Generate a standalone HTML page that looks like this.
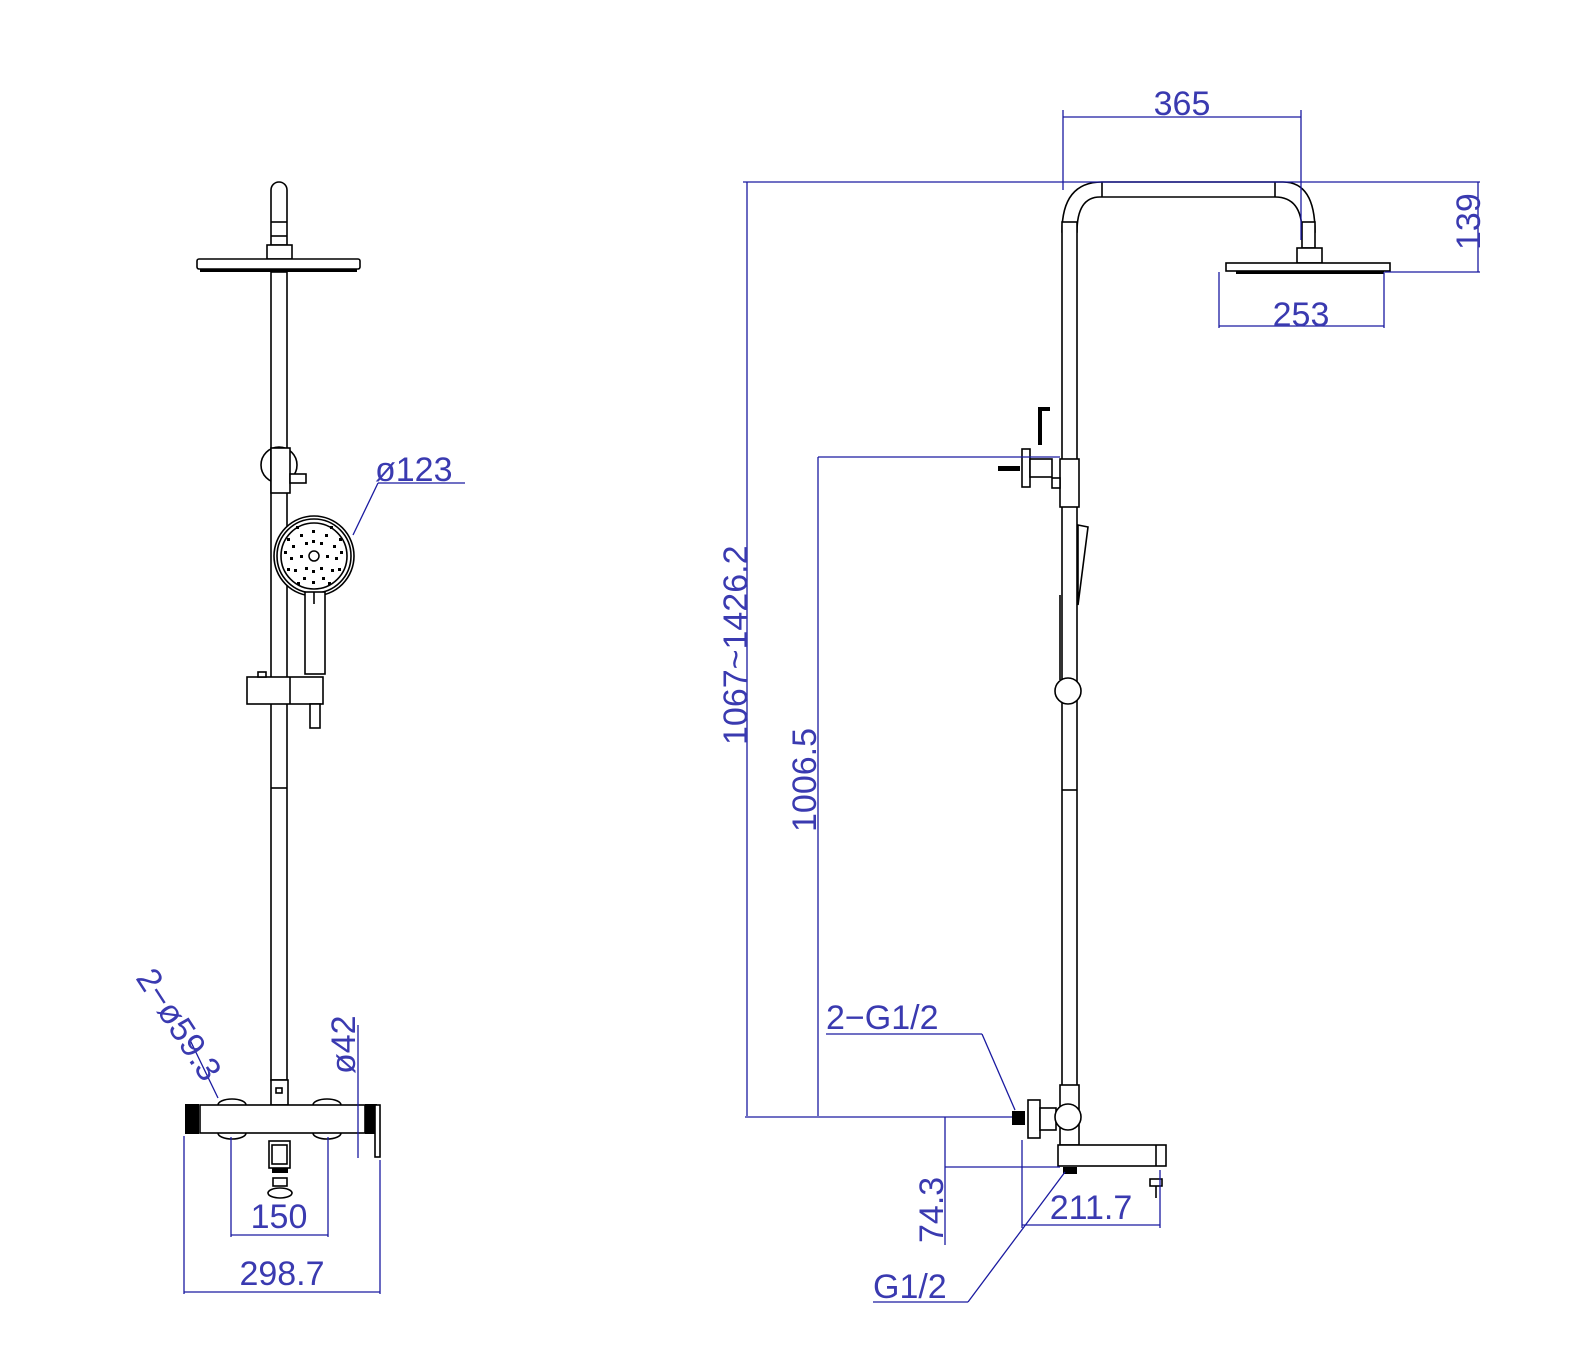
<!DOCTYPE html>
<html><head><meta charset="utf-8"><style>
html,body{margin:0;padding:0;background:#fff}
svg{display:block}
.k{fill:none;stroke:#000;stroke-width:1.6}
.kf{fill:#fff;stroke:#000;stroke-width:1.6}
.b{fill:none;stroke:#1a1aa0;stroke-width:1.3}
.t{fill:#3a3ab0;font-family:"Liberation Sans",sans-serif;font-size:34px;font-weight:normal}
</style></head><body>
<svg width="1577" height="1371" viewBox="0 0 1577 1371" xmlns="http://www.w3.org/2000/svg">
<!-- LEFT VIEW -->
<path class="kf" d="M271,245 V190 a8,8 0 0 1 16,0 V245 Z"/>
<line class="k" x1="271" y1="222" x2="287" y2="222"/>
<line class="k" x1="271" y1="236" x2="287" y2="236"/>
<rect class="kf" x="267" y="245" width="25" height="14"/>
<rect class="kf" x="197" y="259" width="163" height="10" rx="2"/>
<rect x="200" y="269" width="157" height="3" fill="#000"/>
<rect class="kf" x="271" y="272" width="16" height="808"/>
<line class="k" x1="271" y1="788" x2="287" y2="788"/>
<circle class="k" cx="279" cy="465" r="18"/>
<rect class="kf" x="271" y="448" width="19" height="45"/>
<rect class="kf" x="290" y="474" width="16" height="9"/>
<circle class="kf" cx="314" cy="556" r="40"/>
<circle class="k" cx="314" cy="556" r="37"/>
<circle class="k" cx="314" cy="556" r="33"/>
<g fill="#000">
<circle cx="314" cy="556" r="5" fill="none" stroke="#000" stroke-width="1.5"/>
<rect x="312" y="530" width="3" height="3"/><rect x="300" y="534" width="3" height="3"/><rect x="325" y="534" width="3" height="3"/>
<rect x="292" y="545" width="3" height="3"/><rect x="333" y="545" width="3" height="3"/><rect x="290" y="557" width="3" height="3"/>
<rect x="335" y="557" width="3" height="3"/><rect x="294" y="569" width="3" height="3"/><rect x="331" y="569" width="3" height="3"/>
<rect x="303" y="577" width="3" height="3"/><rect x="322" y="577" width="3" height="3"/><rect x="312" y="581" width="3" height="3"/>
<rect x="305" y="542" width="3" height="3"/><rect x="320" y="542" width="3" height="3"/><rect x="300" y="555" width="3" height="3"/>
<rect x="326" y="555" width="3" height="3"/><rect x="305" y="567" width="3" height="3"/><rect x="320" y="567" width="3" height="3"/>
<rect x="312" y="540" width="3" height="3"/><rect x="312" y="570" width="3" height="3"/><rect x="284" y="551" width="3" height="3"/><rect x="340" y="551" width="3" height="3"/>
<rect x="296" y="526" width="3" height="3"/><rect x="330" y="526" width="3" height="3"/><rect x="287" y="538" width="3" height="3"/><rect x="339" y="538" width="3" height="3"/>
<rect x="287" y="568" width="3" height="3"/><rect x="338" y="568" width="3" height="3"/><rect x="297" y="582" width="3" height="3"/><rect x="328" y="582" width="3" height="3"/>
</g>
<rect class="kf" x="305" y="592" width="20" height="82"/>
<line class="k" x1="314" y1="592" x2="314" y2="604"/>
<rect class="kf" x="247" y="677" width="76" height="27"/>
<rect class="kf" x="258" y="672" width="8" height="5"/>
<line class="k" x1="290" y1="677" x2="290" y2="704"/>
<rect class="kf" x="310" y="704" width="10" height="24"/>
<!-- mixer -->
<rect class="kf" x="271" y="1080" width="17" height="25"/>
<rect class="k" x="276" y="1088" width="6" height="5"/>
<path class="k" d="M218,1105 a14,6 0 0 1 28,0 M313,1105 a14,6 0 0 1 28,0 M218,1133 a14,6 0 0 0 28,0 M313,1133 a14,6 0 0 0 28,0"/>
<rect class="kf" x="200" y="1105" width="165" height="28"/>
<rect x="185" y="1104" width="14" height="30" fill="#000"/>
<rect x="365" y="1104" width="12" height="30" fill="#000"/>
<rect class="kf" x="375" y="1105" width="5" height="52"/>
<rect class="kf" x="269" y="1141" width="21" height="27"/>
<rect class="k" x="272" y="1145" width="15" height="19"/>
<rect x="272" y="1168" width="16" height="5" fill="#000"/>
<rect class="kf" x="273" y="1178" width="14" height="8"/>
<ellipse class="k" cx="280" cy="1193" rx="12" ry="5"/>
<!-- left dims -->
<line class="b" x1="231" y1="1137" x2="231" y2="1237"/>
<line class="b" x1="328" y1="1137" x2="328" y2="1237"/>
<line class="b" x1="231" y1="1235" x2="328" y2="1235"/>
<text class="t" x="279" y="1228" text-anchor="middle">150</text>
<line class="b" x1="184" y1="1136" x2="184" y2="1294"/>
<line class="b" x1="380" y1="1160" x2="380" y2="1294"/>
<line class="b" x1="184" y1="1292" x2="380" y2="1292"/>
<text class="t" x="282" y="1285" text-anchor="middle">298.7</text>
<line class="b" x1="358" y1="1025" x2="358" y2="1158"/>
<text class="t" transform="translate(355,1074) rotate(-90)">ø42</text>
<line class="b" x1="190" y1="1040" x2="218" y2="1098"/>
<text class="t" transform="translate(135,978) rotate(57)">2−ø59.3</text>
<line class="b" x1="353" y1="535" x2="378" y2="483"/>
<line class="b" x1="378" y1="483" x2="465" y2="483"/>
<text class="t" x="375" y="481">ø123</text>
<!-- RIGHT VIEW -->
<path class="kf" d="M1062,232 Q1062,182 1102,182 H1283 Q1315,182 1315,232 L1302,232 Q1302,197 1275,197 H1100 Q1077,197 1077,232 Z"/>
<line class="k" x1="1102" y1="182" x2="1102" y2="197"/>
<line class="k" x1="1275" y1="182" x2="1275" y2="197"/>
<rect class="kf" x="1302" y="222" width="13" height="26"/>
<rect class="kf" x="1297" y="248" width="25" height="15"/>
<rect class="kf" x="1226" y="263" width="164" height="8"/>
<rect x="1236" y="271" width="148" height="3" fill="#000"/>
<rect class="kf" x="1062" y="222" width="15" height="870"/>
<line class="k" x1="1062" y1="790" x2="1077" y2="790"/>
<path d="M1040,445 V409 H1050" fill="none" stroke="#000" stroke-width="4"/>
<rect class="kf" x="1022" y="449" width="8" height="38"/>
<rect class="kf" x="1030" y="459" width="22" height="18"/>
<rect class="kf" x="1060" y="459" width="19" height="48"/>
<rect class="kf" x="1052" y="478" width="8" height="10"/>
<rect x="998" y="466" width="22" height="5" fill="#000"/>
<path class="k" d="M1078,525 L1088,527 L1078,605 Z"/>
<line class="k" x1="1060" y1="595" x2="1060" y2="680"/>
<circle class="kf" cx="1068" cy="691" r="13"/>
<rect class="kf" x="1060" y="1085" width="19" height="60"/>
<rect class="kf" x="1028" y="1100" width="12" height="38"/>
<rect class="kf" x="1040" y="1108" width="16" height="22"/>
<circle class="kf" cx="1068" cy="1117" r="13"/>
<rect x="1012" y="1111" width="13" height="14" fill="#000"/>
<rect class="kf" x="1058" y="1145" width="108" height="21"/>
<line class="k" x1="1156" y1="1145" x2="1156" y2="1166"/>
<rect x="1063" y="1167" width="14" height="7" fill="#000"/>
<rect class="kf" x="1150" y="1179" width="12" height="7"/>
<line class="k" x1="1156" y1="1186" x2="1156" y2="1198"/>
<!-- right dims -->
<line class="b" x1="1063" y1="110" x2="1063" y2="190"/>
<line class="b" x1="1301" y1="110" x2="1301" y2="240"/>
<line class="b" x1="1063" y1="117" x2="1301" y2="117"/>
<text class="t" x="1182" y="115" text-anchor="middle">365</text>
<line class="b" x1="743" y1="182" x2="1480" y2="182"/>
<line class="b" x1="1385" y1="272" x2="1480" y2="272"/>
<line class="b" x1="1478" y1="182" x2="1478" y2="272"/>
<text class="t" transform="translate(1480,250) rotate(-90)">139</text>
<line class="b" x1="1219" y1="272" x2="1219" y2="328"/>
<line class="b" x1="1384" y1="272" x2="1384" y2="328"/>
<line class="b" x1="1219" y1="326" x2="1384" y2="326"/>
<text class="t" x="1301" y="326" text-anchor="middle">253</text>
<line class="b" x1="747" y1="182" x2="747" y2="1116"/>
<text class="t" transform="translate(747,745) rotate(-90)">1067~1426.2</text>
<line class="b" x1="818" y1="457" x2="818" y2="1116"/>
<line class="b" x1="818" y1="457" x2="1060" y2="457"/>
<text class="t" transform="translate(816,832) rotate(-90)">1006.5</text>
<line class="b" x1="745" y1="1117" x2="1012" y2="1117"/>
<line class="b" x1="945" y1="1117" x2="945" y2="1245"/>
<line class="b" x1="945" y1="1167" x2="1060" y2="1167"/>
<text class="t" transform="translate(943,1243) rotate(-90)">74.3</text>
<line class="b" x1="1022" y1="1140" x2="1022" y2="1228"/>
<line class="b" x1="1160" y1="1170" x2="1160" y2="1228"/>
<line class="b" x1="1022" y1="1225" x2="1160" y2="1225"/>
<text class="t" x="1091" y="1219" text-anchor="middle">211.7</text>
<text class="t" x="826" y="1029">2−G1/2</text>
<line class="b" x1="826" y1="1034" x2="982" y2="1034"/>
<line class="b" x1="982" y1="1034" x2="1015" y2="1110"/>
<text class="t" x="873" y="1298">G1/2</text>
<line class="b" x1="873" y1="1302" x2="968" y2="1302"/>
<line class="b" x1="968" y1="1302" x2="1065" y2="1172"/>
</svg>
</body></html>
